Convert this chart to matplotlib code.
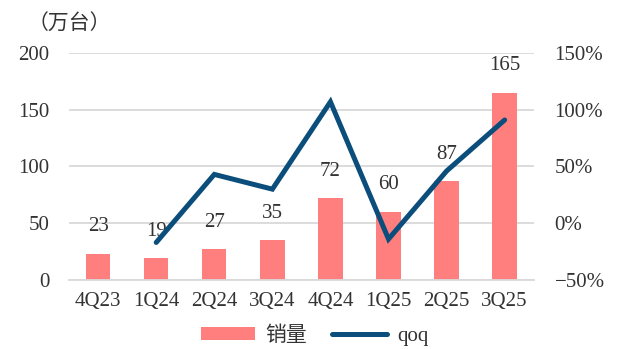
import matplotlib
matplotlib.use("Agg")
import matplotlib.pyplot as plt
from matplotlib.lines import Line2D
from matplotlib.patches import Patch
import numpy as np

categories = ["4Q23", "1Q24", "2Q24", "3Q24", "4Q24", "1Q25", "2Q25", "3Q25"]
sales = [23, 19, 27, 35, 72, 60, 87, 165]
qoq = [None, -17, 43, 30, 107, -14, 46, 91]

serif = ["Liberation Serif", "DejaVu Serif"]
cjk = ["Noto Sans CJK SC", "DejaVu Sans"]
BAR = "#FF7F7F"
LINE = "#0B4D7B"
TXT = "#333333"
FS = 15

fig = plt.figure(figsize=(6.17, 3.49), dpi=100)
ax = fig.add_axes([0.112, 0.198, 0.753, 0.650])
x = np.arange(len(categories))
ax.bar(x, sales, width=0.42, color=BAR, zorder=2)
ax.set_ylim(0, 200)
ax.set_xlim(-0.5, len(categories) - 0.5)
ax.set_yticks([0, 50, 100, 150, 200])
ax.grid(axis="y", color="#d9d9d9", linewidth=1.3, zorder=0)
ax.set_axisbelow(True)
for s in ["top", "left", "right"]:
    ax.spines[s].set_visible(False)
ax.spines["bottom"].set_color("#d9d9d9")
ax.spines["bottom"].set_linewidth(1.3)
ax.tick_params(axis="both", length=0)
ax.tick_params(axis="y", pad=14)
ax.tick_params(axis="x", pad=9)
ax.set_xticks(x)
ax.set_xticklabels(categories)
for lbl in ax.get_xticklabels() + ax.get_yticklabels():
    lbl.set_fontfamily(serif)
    lbl.set_fontsize(FS)
    lbl.set_color(TXT)

for xi, v in zip(x, sales):
    ax.annotate(str(v), (xi, v), xytext=(0, 19.5), textcoords="offset points",
                ha="center", va="center", fontsize=FS, family=serif,
                color=TXT, zorder=1)

ax2 = ax.twinx()
ax2.set_ylim(-50, 150)
ax2.set_yticks([-50, 0, 50, 100, 150])
ax2.set_yticklabels(["\u221250%", "0%", "50%", "100%", "150%"])
for s in ["top", "left", "right", "bottom"]:
    ax2.spines[s].set_visible(False)
ax2.tick_params(axis="y", length=0, pad=15)
for lbl in ax2.get_yticklabels():
    lbl.set_fontfamily(serif)
    lbl.set_fontsize(FS)
    lbl.set_color(TXT)
qx = [xi for xi, q in zip(x, qoq) if q is not None]
qy = [q for q in qoq if q is not None]
ax2.plot(qx, qy, color=LINE, linewidth=3.6, solid_joinstyle="miter",
         solid_capstyle="round", zorder=3)

fig.text(0.045, 0.932, "（万台）", fontsize=FS, family=cjk, color=TXT,
         ha="left", va="center")

handles = [Patch(facecolor=BAR, edgecolor="none"),
           Line2D([0], [0], color=LINE, linewidth=3.6, solid_capstyle="round")]
leg = fig.legend(handles, ["销量", "qoq"], loc="center", bbox_to_anchor=(0.51, 0.04),
                 ncol=2, frameon=False, handlelength=2.6, handleheight=0.6,
                 columnspacing=1.2, handletextpad=0.5,
                 prop={"family": cjk, "size": FS})
texts = leg.get_texts()
texts[1].set_fontfamily(serif)
for t in texts:
    t.set_color(TXT)

fig.savefig("out.png", dpi=100)
